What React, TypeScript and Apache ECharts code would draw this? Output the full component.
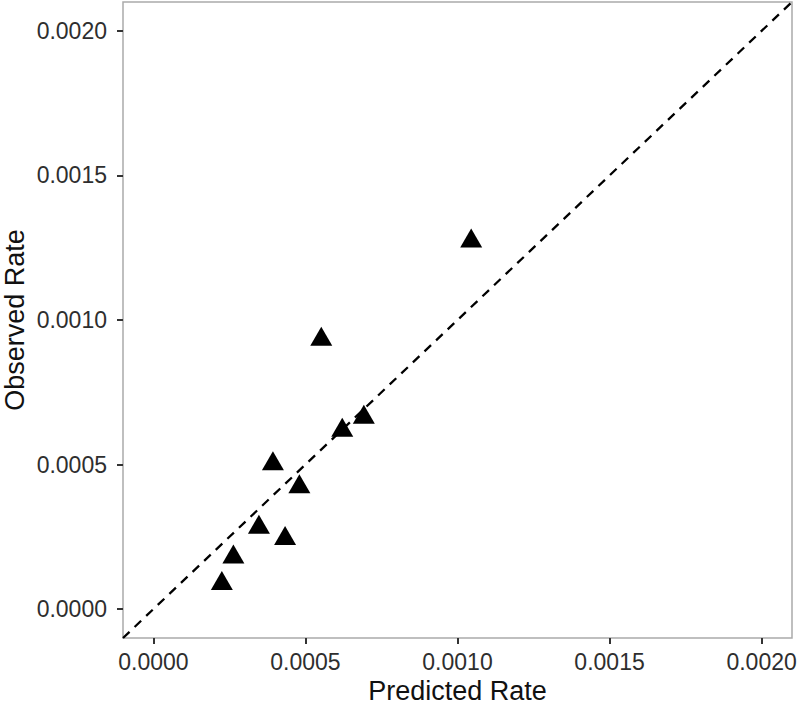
import React, { useEffect, useRef } from "react";
import * as echarts from "echarts";

const predictedRate = [0.000225, 0.000263, 0.000347, 0.000433, 0.000393, 0.00048, 0.000621, 0.000692, 0.000552, 0.001045];
const observedRate = [0.0000885, 0.00018, 0.000283, 0.000244, 0.000503, 0.000423, 0.000619, 0.000664, 0.000933, 0.001273];
const tickValues = [0, 0.0005, 0.001, 0.0015, 0.002];
const axisMin = -0.0001;
const axisMax = 0.0021;
const identityLine = [[axisMin, axisMin], [axisMax, axisMax]];

const FONT = "Liberation Sans, Arial, Helvetica, sans-serif";

export default function App() {
  const ref = useRef<HTMLDivElement>(null);
  useEffect(() => {
    if (!ref.current) return;
    const chart = echarts.init(ref.current, null, { renderer: "svg" });
    const axisCommon = {
      type: "value",
      min: axisMin,
      max: axisMax,
      nameLocation: "middle",
      nameTextStyle: { fontSize: 27, lineHeight: 26, color: "#111", fontFamily: FONT },
      axisLine: { show: false, onZero: false },
      splitLine: { show: false },
      axisTick: {
        show: true,
        inside: false,
        length: 6,
        customValues: tickValues,
        lineStyle: { color: "#333", width: 2 },
      },
      axisLabel: {
        customValues: tickValues,
        fontSize: 23,
        color: "#2e2e2e",
        fontFamily: FONT,
        formatter: (v: number) => v.toFixed(4),
      },
    };
    chart.setOption({
      animation: false,
      backgroundColor: "#ffffff",
      grid: {
        left: 123,
        top: 2,
        right: 8,
        bottom: 67,
        show: true,
        containLabel: false,
        outerBoundsMode: "none",
        borderColor: "#aaaaaa",
        borderWidth: 1.5,
        backgroundColor: "#ffffff",
      },
      xAxis: {
        ...axisCommon,
        name: "Predicted Rate",
        nameGap: 38,
        axisLabel: { ...axisCommon.axisLabel, margin: 12 },
      },
      yAxis: {
        ...axisCommon,
        name: "Observed Rate",
        nameGap: 95,
        nameMoveOverlap: false,
        axisLabel: { ...axisCommon.axisLabel, margin: 16 },
      },
      series: [
        {
          type: "line",
          data: identityLine,
          showSymbol: false,
          symbol: "none",
          lineStyle: { color: "#000", width: 2.3, type: [9, 7] },
          silent: true,
          z: 1,
        },
        {
          type: "scatter",
          data: predictedRate.map((x, i) => [x, observedRate[i]]),
          symbol: "triangle",
          symbolSize: [22, 19],
          symbolOffset: [0, -3],
          itemStyle: { color: "#000", opacity: 1 },
          z: 3,
        },
      ],
    });
    return () => chart.dispose();
  }, []);
  return (
    <div
      ref={ref}
      style={{ position: "fixed", left: 0, top: 0, width: 800, height: 705 }}
    />
  );
}
